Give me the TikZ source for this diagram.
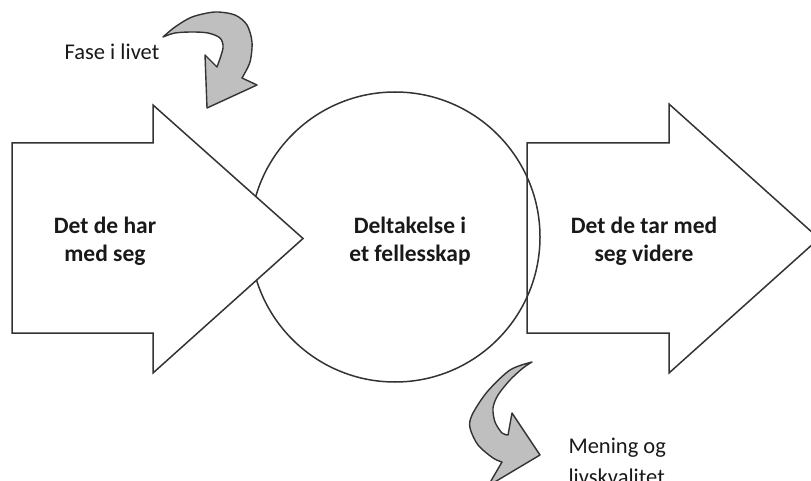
\documentclass[tikz,border=0pt]{standalone}
\usepackage{fontspec}
\setmainfont{Carlito}
\usepackage{xcolor}

\begin{document}
\begin{tikzpicture}[x=1pt, y=-1pt,
  outline/.style = {draw=black!80, line width=1.5pt, line join=miter},
  bigarrow/.style = {outline, fill=white},
  twist/.style = {draw=black!80, line width=1.4pt, fill=black!25, line join=round},
  every node/.style = {font=\fontsize{22.5}{28}\selectfont, text=black!90},
  label/.style = {align=center, font=\bfseries\fontsize{23.5}{28}\selectfont}]
  \useasboundingbox (0,0) rectangle (811,481);
  \clip (0,0) rectangle (811,481);
  % the circle in the middle
  \draw[outline, fill=white] (395,237) circle[radius=145];
  % arrow going out
  \draw[outline] (527,143) -- (669,143) -- (669,104) -- (819,238.5)
    -- (669,373) -- (669,333) -- (527,333) -- cycle;
  % arrow coming in
  \draw[bigarrow] (12,143) -- (153,143) -- (153,105) -- (303,238.5)
    -- (153,373) -- (153,333) -- (12,333) -- cycle;
  % curved arrows
  \draw[twist] (163,37) -- plot[smooth] coordinates {(163,37) (175,27) (192,17)
      (215,12) (235,15) (247,25) (252,42) (250,62) (242,78)}
    -- (257,85) -- (207,108) -- (205,55) -- (217,67)
    -- plot[smooth] coordinates {(217,67) (223,48) (220,38) (208,33) (192,32)
      (175,33) (163,37)} -- cycle;
  \draw[twist] (532,362) -- plot[smooth] coordinates {(532,362) (510,370) (487,392)
      (472,415) (470,428) (478,445) (493,458) (502,462)}
    -- (488,486) -- (540,455) -- (512,413) -- (508,435)
    -- plot[smooth] coordinates {(508,435) (502,433) (495,422) (493,408) (498,395)
      (510,380) (523,368) (532,362)} -- cycle;
  % texts
  \node[label] (har) at (105,241) {Det de har\\med seg};
  \node[label] (delta) at (410,241) {Deltakelse i\\et fellesskap};
  \node[label] (tar) at (644,241) {Det de tar med\\seg videre};
  \node (fase) at (112,52) {Fase i livet};
  \node[anchor=base west, align=left, font=\fontsize{22.5}{31}\selectfont]
    (mening) at (565,484) {Mening og\\livskvalitet};
\end{tikzpicture}
\end{document}
